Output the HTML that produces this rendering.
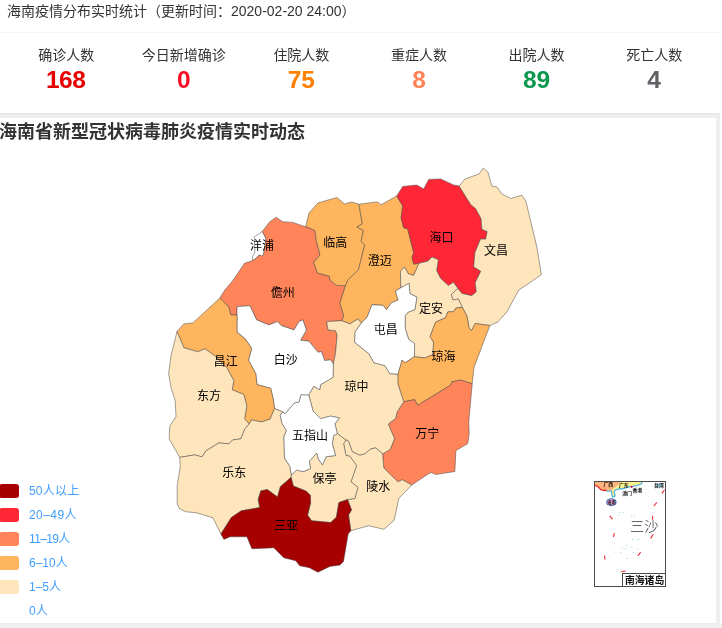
<!DOCTYPE html>
<html lang="zh-CN">
<head>
<meta charset="utf-8">
<title>海南疫情分布实时统计</title>
<style>
html,body{margin:0;padding:0;background:#fff;}
body{width:722px;height:628px;position:relative;overflow:hidden;font-family:"Liberation Sans","Noto Sans CJK SC",sans-serif;color:#333;}
.hd{position:absolute;left:7px;top:0;height:22px;line-height:22px;font-size:14px;color:#333;white-space:nowrap;}
.ln{position:absolute;left:0;top:32px;width:722px;height:1px;background:#f5f5f5;}
.stats{position:absolute;left:7.4px;top:44px;width:706px;display:flex;}
.st{width:117.6px;text-align:center;}
.st .t{font-size:14px;line-height:22px;height:22px;color:#333;}
.st .n{font-size:24.5px;line-height:28px;height:28px;font-weight:bold;}
.band{position:absolute;background:#eeeeee;}
.map{position:absolute;left:0;top:0;}
.mt{position:absolute;left:-1px;top:121px;font-size:18px;line-height:22px;font-weight:bold;color:#333;white-space:nowrap;}
.lg{position:absolute;left:0;width:120px;height:14px;}
.lg i{position:absolute;left:-1px;top:0;width:20px;height:14px;border-radius:3px;display:block;}
.lg span{position:absolute;left:29px;top:-2px;line-height:18px;font-size:12px;color:#409eff;white-space:nowrap;}
</style>
</head>
<body>
<div class="hd">海南疫情分布实时统计（更新时间：2020-02-20 24:00）</div>
<div class="ln"></div>
<div class="stats">
<div class="st"><div class="t">确诊人数</div><div class="n" style="color:#e60000;letter-spacing:-0.5px;text-indent:-1px">168</div></div>
<div class="st"><div class="t">今日新增确诊</div><div class="n" style="color:#ff0a23">0</div></div>
<div class="st"><div class="t">住院人数</div><div class="n" style="color:#ff8000">75</div></div>
<div class="st"><div class="t">重症人数</div><div class="n" style="color:#ff8259">8</div></div>
<div class="st"><div class="t">出院人数</div><div class="n" style="color:#0c994f">89</div></div>
<div class="st"><div class="t">死亡人数</div><div class="n" style="color:#606266">4</div></div>
</div>
<div class="band" style="left:0;top:113px;width:722px;height:5px;border-top:1px solid #e7e7e7;box-sizing:border-box;"></div>
<div class="band" style="left:716px;top:118px;width:4px;height:510px;"></div>
<div class="band" style="left:0;top:623px;width:722px;height:5px;"></div>
<div style="position:absolute;left:720px;top:0;width:2px;height:624px;background:#fff"></div>
<div class="mt">海南省新型冠状病毒肺炎疫情实时动态</div>
<svg class="map" width="722" height="628" viewBox="0 0 722 628">
<g stroke="#444" stroke-width="0.5" stroke-linejoin="round">
<polygon points="252.6,260.6 252.4,256.8 254.9,252.0 254.3,236.8 260.0,233.0 262.3,231.4 266.0,238.5 263.6,254.5 261.7,256.2 259.3,254.9 256.5,258.0" fill="#ffffff"/>
<polygon points="219.8,298.0 224.8,290.0 232.8,280.7 244.5,263.3 252.6,260.6 256.5,258.0 259.3,254.9 261.7,256.2 263.6,254.5 266.0,238.5 262.3,231.4 269.7,221.8 276.3,217.3 282.7,221.8 292.7,222.4 305.6,226.8 309.0,227.8 315.0,230.6 316.2,240.0 320.0,254.9 313.7,262.4 317.5,273.0 329.3,276.1 330.0,280.0 336.5,285.4 345.5,285.7 339.9,303.0 343.9,315.9 341.8,320.7 326.7,321.6 328.0,329.9 335.5,330.7 337.2,334.9 335.5,353.2 333.4,364.0 330.5,359.8 324.7,360.6 321.4,351.5 318.1,352.3 308.9,341.2 300.6,340.2 306.4,329.9 302.8,319.9 299.0,321.6 294.0,329.9 281.5,325.7 277.4,321.6 269.0,324.9 256.6,319.9 249.9,305.8 237.0,306.6 237.0,315.0 230.8,315.0 228.8,307.0" fill="#ff845a"/>
<polygon points="305.6,226.8 309.0,212.9 318.0,202.9 336.9,197.5 344.5,203.9 351.9,201.9 358.9,204.3 362.4,223.9 356.9,226.8 363.5,230.5 361.1,241.2 364.7,244.9 358.5,269.8 348.0,279.8 345.5,285.7 336.5,285.4 330.0,280.0 329.3,276.1 317.5,273.0 313.7,262.4 320.0,254.9 316.2,240.0 315.0,230.6 309.0,227.8" fill="#ffb45e"/>
<polygon points="358.9,204.3 368.8,202.9 377.8,201.9 380.8,204.9 396.8,195.9 402.7,205.9 401.1,217.9 403.7,227.8 407.7,228.8 413.7,252.8 412.0,257.5 413.7,264.1 419.0,263.3 413.7,275.4 408.3,273.7 404.5,267.1 400.4,271.2 400.8,287.8 395.4,291.2 398.2,300.0 391.3,302.8 386.5,309.7 383.0,305.4 372.0,304.7 367.1,317.2 361.3,322.9 357.9,318.9 349.9,323.9 341.8,320.7 343.9,315.9 339.9,303.0 345.5,285.7 348.0,279.8 358.5,269.8 364.7,244.9 361.1,241.2 363.5,230.5 356.9,226.8 362.4,223.9" fill="#ffb45e"/>
<polygon points="396.8,195.9 402.7,186.5 416.7,185.0 423.7,189.0 428.7,179.4 440.6,179.0 453.5,184.9 459.2,186.1 470.5,204.2 475.8,208.8 481.1,218.7 481.9,229.3 487.2,231.6 485.7,239.2 480.6,239.0 474.9,252.8 473.7,266.7 480.8,271.3 475.2,282.8 476.3,291.8 471.8,295.7 461.8,293.4 457.9,288.4 453.4,282.3 448.4,285.6 440.6,278.4 436.6,270.5 438.3,259.8 432.0,257.1 427.8,261.2 419.0,263.3 413.7,264.1 412.0,257.5 413.7,252.8 407.7,228.8 403.7,227.8 401.1,217.9 402.7,205.9" fill="#ff2736"/>
<polygon points="459.2,186.1 465.0,179.0 479.0,174.0 483.3,168.0 487.9,172.0 491.9,186.0 496.9,187.0 501.9,194.0 510.8,198.5 521.8,195.3 525.8,200.9 536.8,246.8 541.4,274.7 529.8,282.7 518.8,290.0 506.9,311.9 497.9,321.9 489.9,325.5 475.2,323.5 471.6,330.5 469.0,328.0 467.9,321.3 466.8,315.7 462.3,307.4 458.4,299.0 452.9,300.1 451.2,294.5 457.9,288.4 461.8,293.4 471.8,295.7 476.3,291.8 475.2,282.8 480.8,271.3 473.7,266.7 474.9,252.8 480.6,239.0 485.7,239.2 487.2,231.6 481.9,229.3 481.1,218.7 475.8,208.8 470.5,204.2" fill="#ffe5bb"/>
<polygon points="419.0,263.3 427.8,261.2 432.0,257.1 438.3,259.8 436.6,270.5 440.6,278.4 448.4,285.6 453.4,282.3 457.9,288.4 451.2,294.5 452.9,300.1 458.4,299.0 462.3,307.4 456.2,307.9 453.4,311.8 447.9,311.8 445.5,317.9 435.6,322.0 430.1,336.6 433.6,342.1 432.9,354.6 424.6,358.0 414.4,356.7 414.6,343.5 408.6,339.3 405.2,328.2 405.2,315.8 407.9,312.3 414.9,309.5 416.9,297.1 409.9,293.7 409.1,283.3 400.8,287.8 400.4,271.2 404.5,267.1 408.3,273.7 413.7,275.4" fill="#ffe5bb"/>
<polygon points="400.8,287.8 409.1,283.3 409.9,293.7 416.9,297.1 414.9,309.5 407.9,312.3 405.2,315.8 405.2,328.2 408.6,339.3 414.6,343.5 414.4,356.7 405.2,362.8 402.1,360.2 398.0,374.4 389.8,373.8 384.8,365.8 373.8,362.8 368.8,353.8 354.5,342.3 354.9,331.9 361.3,322.9 367.1,317.2 372.0,304.7 383.0,305.4 386.5,309.7 391.3,302.8 398.2,300.0 395.4,291.2" fill="#ffffff"/>
<polygon points="489.9,325.5 482.9,343.8 473.9,367.8 472.2,383.9 460.8,380.0 451.9,381.9 450.9,384.9 425.0,400.9 417.7,405.3 414.7,399.7 403.7,401.7 397.8,383.7 398.0,374.4 402.1,360.2 405.2,362.8 414.4,356.7 424.6,358.0 432.9,354.6 433.6,342.1 430.1,336.6 435.6,322.0 445.5,317.9 447.9,311.8 453.4,311.8 456.2,307.9 462.3,307.4 466.8,315.7 467.9,321.3 469.0,328.0 471.6,330.5 475.2,323.5" fill="#ffb45e"/>
<polygon points="472.2,383.9 468.8,421.7 469.2,433.7 467.8,443.6 455.9,450.6 454.9,471.5 435.9,474.5 431.0,472.5 428.2,474.0 411.7,485.0 402.3,479.8 397.8,481.8 383.8,467.9 382.6,453.9 390.3,449.2 394.5,438.6 388.2,424.1 395.6,418.5 397.1,411.9 403.7,401.7 414.7,399.7 417.7,405.3 425.0,400.9 450.9,384.9 451.9,381.9 460.8,380.0" fill="#ff845a"/>
<polygon points="333.4,364.0 335.5,353.2 337.2,334.9 335.5,330.7 328.0,329.9 326.7,321.6 341.8,320.7 349.9,323.9 357.9,318.9 361.3,322.9 354.9,331.9 354.5,342.3 368.8,353.8 373.8,362.8 384.8,365.8 389.8,373.8 398.0,374.4 397.8,383.7 403.7,401.7 397.1,411.9 395.6,418.5 388.2,424.1 394.5,438.6 390.3,449.2 382.6,453.9 375.8,447.9 370.8,448.9 364.8,453.9 359.8,455.3 352.3,451.8 348.5,441.2 346.0,440.0 337.3,433.7 334.9,423.6 339.5,418.0 330.6,416.1 320.6,418.6 313.1,411.1 308.7,394.9 313.7,386.2 319.7,389.7 320.6,384.7 333.0,377.3" fill="#ffe5bb"/>
<polygon points="411.7,485.0 398.8,498.5 395.3,515.0 394.0,520.5 383.9,529.3 368.6,525.7 350.8,530.7 348.5,514.9 351.5,509.9 347.5,499.5 354.8,498.5 357.9,487.3 351.0,481.7 356.6,465.5 349.8,456.2 346.0,455.5 343.6,443.7 346.0,440.0 348.5,441.2 352.3,451.8 359.8,455.3 364.8,453.9 370.8,448.9 375.8,447.9 382.6,453.9 383.8,467.9 397.8,481.8 402.3,479.8" fill="#ffe5bb"/>
<polygon points="346.0,440.0 343.6,443.7 346.0,455.5 349.8,456.2 356.6,465.5 351.0,481.7 357.9,487.3 354.8,498.5 347.5,499.5 338.9,502.6 336.4,517.2 330.7,522.6 311.6,520.8 307.6,515.2 310.6,502.6 310.3,495.2 306.3,491.2 293.3,486.0 291.0,477.3 291.2,475.0 296.8,469.9 303.0,471.7 310.5,468.6 309.3,461.2 316.8,453.0 318.6,459.3 322.4,464.9 326.1,456.8 335.5,455.5 332.3,443.7 333.6,435.6 337.3,433.7" fill="#ffe5bb"/>
<polygon points="337.3,433.7 334.9,423.6 339.5,418.0 330.6,416.1 320.6,418.6 313.1,411.1 308.7,394.9 300.9,394.7 299.1,401.8 294.4,403.0 285.1,413.6 282.6,411.8 280.1,415.5 281.9,423.6 286.3,430.5 283.7,436.8 284.3,458.0 289.7,466.1 291.2,475.0 296.8,469.9 303.0,471.7 310.5,468.6 309.3,461.2 316.8,453.0 318.6,459.3 322.4,464.9 326.1,456.8 335.5,455.5 332.3,443.7 333.6,435.6" fill="#ffffff"/>
<polygon points="237.0,315.0 237.0,306.6 249.9,305.8 256.6,319.9 269.0,324.9 277.4,321.6 281.5,325.7 294.0,329.9 299.0,321.6 302.8,319.9 306.4,329.9 300.6,340.2 308.9,341.2 318.1,352.3 321.4,351.5 324.7,360.6 330.5,359.8 333.4,364.0 333.0,377.3 320.6,384.7 319.7,389.7 313.7,386.2 308.7,394.9 300.9,394.7 299.1,401.8 294.4,403.0 285.1,413.6 282.6,411.8 274.5,408.6 273.2,399.0 270.7,388.3 257.0,384.6 255.7,373.5 248.5,360.3 251.7,348.5 245.3,338.9 237.0,332.2" fill="#ffffff"/>
<polygon points="177.0,331.5 183.9,323.9 192.9,322.9 219.8,298.0 228.8,307.0 230.8,315.0 237.0,315.0 237.0,332.2 245.3,338.9 251.7,348.5 248.5,360.3 255.7,373.5 257.0,384.6 270.7,388.3 273.2,399.0 274.5,408.6 270.1,419.2 261.5,421.9 251.6,419.9 249.2,424.0 244.6,418.8 246.8,405.9 243.8,394.5 232.2,389.8 233.8,380.7 226.8,367.8 214.9,355.8 204.9,348.8 197.9,351.8 183.9,347.8" fill="#ffb45e"/>
<polygon points="179.7,457.4 169.1,438.7 169.9,425.7 176.0,416.6 175.2,400.6 171.4,389.1 168.6,373.8 171.0,355.8 177.0,331.5 183.9,347.8 197.9,351.8 204.9,348.8 214.9,355.8 226.8,367.8 233.8,380.7 232.2,389.8 243.8,394.5 246.8,405.9 244.6,418.8 249.2,424.0 244.8,429.0 240.8,438.9 232.8,439.9 228.8,443.9 218.9,442.9 205.9,450.9 201.9,456.9 194.9,454.9" fill="#ffe5bb"/>
<polygon points="220.9,534.0 213.0,517.9 197.0,512.9 185.6,511.7 179.5,508.6 177.2,504.0 177.2,485.7 180.2,466.7 179.7,457.4 194.9,454.9 201.9,456.9 205.9,450.9 218.9,442.9 228.8,443.9 232.8,439.9 240.8,438.9 244.8,429.0 249.2,424.0 251.6,419.9 261.5,421.9 270.1,419.2 274.5,408.6 282.6,411.8 280.1,415.5 281.9,423.6 286.3,430.5 283.7,436.8 284.3,458.0 289.7,466.1 291.2,475.0 291.0,477.3 286.2,481.7 280.5,486.5 277.5,497.0 267.3,489.6 260.8,490.9 258.2,499.5 259.8,507.6 241.3,510.8 231.4,517.5" fill="#ffe5bb"/>
<polygon points="350.8,530.7 348.2,534.0 343.5,561.4 339.9,565.1 329.9,566.4 317.9,572.2 309.4,567.7 299.7,565.7 295.7,560.7 283.8,557.8 273.8,547.8 251.9,548.8 246.9,536.8 229.9,536.8 223.9,539.4 220.9,534.0 231.4,517.5 241.3,510.8 259.8,507.6 258.2,499.5 260.8,490.9 267.3,489.6 277.5,497.0 280.5,486.5 286.2,481.7 291.0,477.3 293.3,486.0 306.3,491.2 310.3,495.2 310.6,502.6 307.6,515.2 311.6,520.8 330.7,522.6 336.4,517.2 338.9,502.6 347.5,499.5 351.5,509.9 348.5,514.9" fill="#a60000"/>
</g>
<g font-family="'Liberation Sans','Noto Sans CJK SC',sans-serif" font-size="12" fill="#000" text-anchor="middle" dominant-baseline="central">
<text x="262.1" y="246.4">洋浦</text>
<text x="282.7" y="292.8">儋州</text>
<text x="335.3" y="242.5">临高</text>
<text x="379.8" y="261.1">澄迈</text>
<text x="441.5" y="237.8">海口</text>
<text x="495.9" y="250.8">文昌</text>
<text x="431.0" y="308.5">定安</text>
<text x="385.8" y="329.5">屯昌</text>
<text x="443.5" y="357.4">琼海</text>
<text x="427.3" y="433.5">万宁</text>
<text x="356.5" y="387.3">琼中</text>
<text x="378.2" y="486.8">陵水</text>
<text x="324.4" y="479.4">保亭</text>
<text x="310.0" y="436.0">五指山</text>
<text x="285.7" y="360.3">白沙</text>
<text x="225.8" y="361.8">昌江</text>
<text x="208.9" y="395.5">东方</text>
<text x="234.2" y="472.8">乐东</text>
<text x="286.2" y="525.8">三亚</text>
</g>
<g>
<rect x="594.5" y="481.5" width="71" height="105" fill="#ffffff" stroke="#4a4a4a" stroke-width="1"/>
<path d="M595,482 L620.5,482 L619.9,483.6 L616.6,486.4 L613.8,488.6 L611.3,490.9 L606.6,490.3 L601.1,489.7 L597.8,486.4 L595,485.3 Z" fill="#fdb37c"/>
<path d="M620.5,482 L642.1,482 L641.5,483.6 L636.5,485.3 L628.8,486.4 L623.2,488.1 L615.5,489.2 L613.8,491.4 L614.6,495.8 L612.7,496.4 L611.3,490.9 L613.8,488.6 L616.6,486.4 L619.9,483.6 Z" fill="#fbf08a"/>
<path d="M642.1,482.3 L641.5,483.8 L636.5,485.6 L628.8,486.8 L623.2,488.5 L615.8,489.6 L614.2,491.6 L615,496 L612.5,496.8 L611.2,491.2 L606.6,490.8" fill="none" stroke="#4fb3dc" stroke-width="1.3"/>
<path d="M595,485.4 L597.8,486.5 L601.1,489.9 L606.6,490.5" fill="none" stroke="#e8262c" stroke-width="1.3"/>
<ellipse cx="611.4" cy="502.2" rx="4.7" ry="3.5" fill="#f6a5d8" stroke="#3d74c4" stroke-width="1.1"/>
<ellipse cx="658.8" cy="485.4" rx="3.8" ry="2.2" fill="#a8dcee"/>
<circle cx="631.6" cy="487" r="1" fill="#e60026"/>
<g font-family="'Liberation Sans','Noto Sans CJK SC',sans-serif" font-size="4.9" font-weight="bold" fill="#111" text-anchor="middle">
<text x="608.3" y="486.4">广西</text>
<text x="623.8" y="486.6">广东</text>
<text x="637.3" y="492.1">香港</text>
<text x="627.1" y="494.8">澳门</text>
<text x="658.9" y="486.8">台湾</text>
<text x="611.4" y="503.6" font-size="4.2">海南</text>
</g>
<g stroke="#ee2c3c" stroke-width="1.1" stroke-linecap="butt">
<line x1="664.5" y1="489.7" x2="661.8" y2="493.4"/>
<line x1="656.8" y1="502.3" x2="653.9" y2="506"/>
<line x1="609.7" y1="515.8" x2="612.5" y2="519.4"/>
<line x1="652.6" y1="515.8" x2="652.6" y2="519.7"/>
<line x1="614.4" y1="533.1" x2="613.3" y2="537"/>
<line x1="653.2" y1="534.2" x2="650.7" y2="538.4"/>
<line x1="640.7" y1="552.2" x2="637.9" y2="555.8"/>
<line x1="604.4" y1="555.5" x2="605" y2="559.7"/>
<line x1="621.2" y1="571.7" x2="625.7" y2="571"/>
</g>
<g fill="#7fd3e0">
<circle cx="619.9" cy="512.5" r="0.5"/><circle cx="623.2" cy="512.5" r="0.5"/><circle cx="618.8" cy="515.8" r="0.5"/><circle cx="631.6" cy="516.3" r="0.5"/><circle cx="634.3" cy="515.6" r="0.5"/>
<circle cx="632.7" cy="539.2" r="0.6"/><circle cx="638.5" cy="539.5" r="0.6"/><circle cx="626.3" cy="545.3" r="0.5"/><circle cx="622.7" cy="548.6" r="0.5"/><circle cx="626" cy="548.6" r="0.5"/>
<circle cx="631.9" cy="547.5" r="0.5"/><circle cx="637.1" cy="549.2" r="0.5"/><circle cx="614.9" cy="551.9" r="0.5"/><circle cx="621" cy="552.5" r="0.5"/><circle cx="633.2" cy="552.5" r="0.6"/><circle cx="627.5" cy="558.4" r="0.6"/>
</g>
<rect x="622.5" y="573.5" width="43" height="13" fill="#ffffff" stroke="#4a4a4a" stroke-width="1"/>
<text x="644.6" y="583.9" font-family="'Liberation Sans','Noto Sans CJK SC',sans-serif" font-size="9.8" font-weight="bold" fill="#111" text-anchor="middle">南海诸岛</text>
<text x="644.3" y="526.2" font-family="'Liberation Sans','Noto Sans CJK SC',sans-serif" font-size="14.2" font-weight="300" fill="#333" text-anchor="middle" dominant-baseline="central">三沙</text>
</g>

</svg>
<div class="lg" style="top:484px"><i style="background:#a60000"></i><span style="letter-spacing:0.2px">50人以上</span></div>
<div class="lg" style="top:508px"><i style="background:#ff2736"></i><span style="letter-spacing:0.45px">20–49人</span></div>
<div class="lg" style="top:532px"><i style="background:#ff845a"></i><span style="letter-spacing:-0.65px">11–19人</span></div>
<div class="lg" style="top:556px"><i style="background:#ffb45e"></i><span>6–10人</span></div>
<div class="lg" style="top:580px"><i style="background:#ffe5bb"></i><span>1–5人</span></div>
<div class="lg" style="top:604px"><i style="background:#ffffff"></i><span>0人</span></div>
</body>
</html>
